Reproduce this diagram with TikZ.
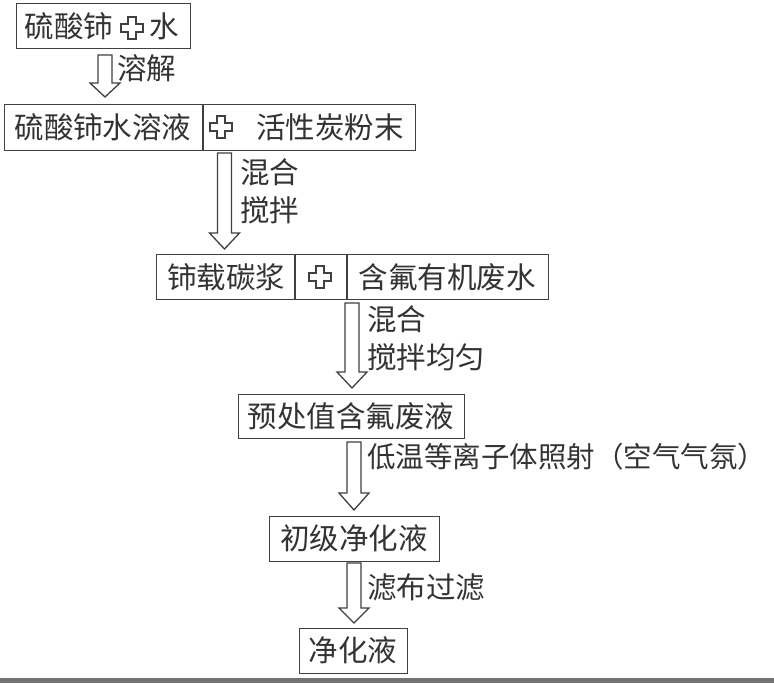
\documentclass[tikz,border=0pt]{standalone}
\usepackage{fontspec}
\setmainfont{Noto Sans CJK SC}
\begin{document}
\begin{tikzpicture}[x=1pt,y=-1pt,
  line/.style={draw=black!75,line width=1.3pt},
  box/.style={line,rectangle,inner sep=0pt,anchor=north west},
  txt/.style={text=black!80,font=\fontsize{29.5}{31}\selectfont,inner sep=0pt},
  lab/.style={txt,anchor=west},
  crs/.pic={\draw[line,line width=1.4pt,line join=miter] (-4,-11) -- (4,-11) -- (4,-4) -- (11,-4) -- (11,4) -- (4,4) -- (4,11) -- (-4,11) -- (-4,4) -- (-11,4) -- (-11,-4) -- (-4,-4) -- cycle;}
]
\useasboundingbox (0,0) rectangle (774,683);
\fill[white] (0,0) rectangle (774,683);
\fill[black!55] (0,678) rectangle (774,683);

\newcommand\harrow[4]{%
  \draw[line,line join=miter] (#1-7,#2) -- (#1+7,#2) -- (#1+7,#3) -- (#1+15,#3) -- (#1,#4) -- (#1-15,#3) -- (#1-7,#3) -- cycle;}

% box 1
\node[box,minimum width=174pt,minimum height=45pt] (b1) at (16,3) {};
\node[txt] (t1a) at (69,26) {硫酸铈};
\pic at (132,28) {crs};
\node[txt] (t1b) at (164,26) {水};

\harrow{105}{55}{83}{97}
\node[lab] (l1) at (117,68) {溶解};

% box 2
\node[box,minimum width=411pt,minimum height=46pt] (b2) at (4,104) {};
\draw[line] (203,104) -- (203,150);
\node[txt] (t2a) at (103,127) {硫酸铈水溶液};
\pic at (221,127) {crs};
\node[txt] (t2b) at (330,127) {活性炭粉末};

\harrow{224.5}{153}{233}{249}
\node[lab] (l2a) at (240,172) {混合};
\node[lab] (l2b) at (240,210) {搅拌};

% box 3
\node[box,minimum width=392pt,minimum height=45pt] (b3) at (156,254) {};
\draw[line] (295,254) -- (295,299);
\draw[line] (347,254) -- (347,299);
\node[txt] (t3a) at (226,277) {铈载碳浆};
\pic at (320,277) {crs};
\node[txt] (t3b) at (447,277) {含氟有机废水};

\harrow{352}{303}{372}{388}
\node[lab] (l3a) at (367,319) {混合};
\node[lab] (l3b) at (367,357) {搅拌均匀};

% box 4
\node[box,minimum width=226pt,minimum height=44pt] (b4) at (238,394) {};
\node[txt] (t4) at (351,416) {预处值含氟废液};

\harrow{354}{442}{493}{510}
\node[lab,font=\fontsize{28.5}{30}\selectfont] (l4) at (367,457) {低温等离子体照射（空气气氛）};

% box 5
\node[box,minimum width=170pt,minimum height=45pt] (b5) at (269,516) {};
\node[txt] (t5) at (354,538) {初级净化液};

\harrow{354}{563}{608}{623}
\node[lab] (l5) at (367,587) {滤布过滤};

% box 6
\node[box,minimum width=108pt,minimum height=45pt] (b6) at (299,628) {};
\node[txt] (t6) at (353,650) {净化液};
\end{tikzpicture}
\end{document}
